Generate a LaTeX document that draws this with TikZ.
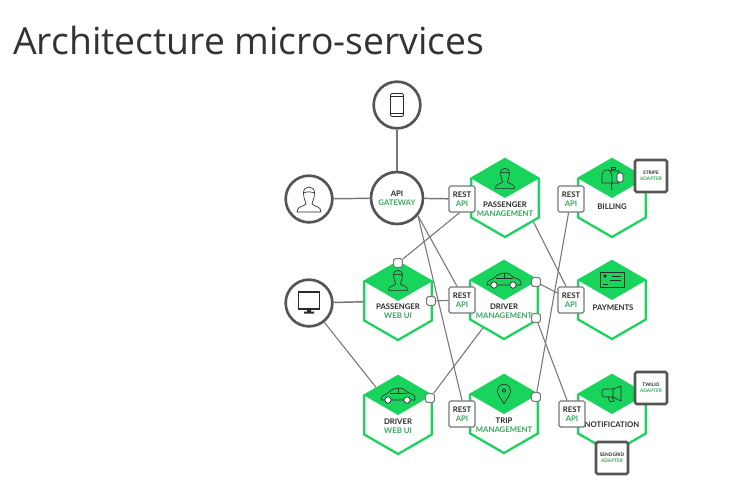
\documentclass[tikz,border=0pt]{standalone}
\usepackage{fontspec}
\setmainfont{Lato}
\newfontfamily\titlefont{Open Sans}
\usetikzlibrary{positioning,arrows.meta,shapes.geometric,calc}
\definecolor{hexGreen}{HTML}{19D45C}
\definecolor{textGreen}{HTML}{35A85C}
\definecolor{ringGray}{HTML}{555555}
\definecolor{wireGray}{HTML}{777777}
\definecolor{inkDark}{HTML}{2A2A2A}

\tikzset{
    personIcon/.pic={
        \draw[iconLine] (-5.5,-6) .. controls (-6,-14) and (6,-14) .. (5.5,-6) .. controls (5.5,0) and (3,3) .. (3,5) .. controls (6,8) and (12,7) .. (12,13) -- (-12,13) .. controls (-12,7) and (-6,8) .. (-3,5) .. controls (-3,3) and (-5.5,0) .. cycle;
        \draw[iconLine] (-5.5,-6) .. controls (-2,-8) and (3,-7) .. (5.5,-6);
    },
    carIcon/.pic={
        \draw[iconLine] (-17,5) .. controls (-18,1) and (-13,0) .. (-10,-2) .. controls (-7,-6) and (-2,-7) .. (2,-7) .. controls (6,-7) and (8,-3) .. (11,-2) .. controls (15,-1) and (18,1) .. (17,5) -- cycle;
        \draw[iconLine] (-8,-2) -- (9,-2) (0,-7) -- (0,-2);
        \draw[iconLine, fill=white] (-10,5) circle (3.2) (9,5) circle (3.2);
    },
    phoneIcon/.pic={
        \draw[iconLine, rounded corners=1pt] (-6.5,-11.5) rectangle (6.5,11.5);
        \draw[iconLine] (-6.5,-9) -- (6.5,-9) (-6.5,8) -- (6.5,8);
    },
    monitorIcon/.pic={
        \draw[inkDark, line width=1.2pt] (-10.5,-11) rectangle (10.5,6);
        \fill[inkDark] (-2,6) rectangle (2,9) (-5,8.5) rectangle (5,10.5);
    },
    mailIcon/.pic={
        \draw[iconLine] (-10,5) -- (-10,-3) .. controls (-10,-9) and (-3,-9) .. (-2,-7) -- (7,-7) -- (7,5) -- cycle;
        \draw[iconLine] (-2,-7) .. controls (0,-5) and (0,-3) .. (0,5);
        \draw[iconLine] (-1,5) -- (-1,12) (-1,-7) -- (-1,-11) -- (3,-11) -- (3,-8.5) -- (-1,-8.5);
        \draw[iconLine, fill=white, rounded corners=1pt] (5,-5) rectangle (11,4);
    },
    cardIcon/.pic={
        \draw[iconLine] (-12,-8) rectangle (12,7);
        \fill[inkDark] (-7,-4) circle (1.8);
        \draw[iconLine, line width=0.3pt] (0,-4) -- (9,-4) (-9,4) -- (-4,4) (-2,0) -- (9,0);
    },
    pinIcon/.pic={
        \draw[iconLine] (0,10) .. controls (-2.5,5) and (-6.5,1) .. (-6.5,-3) .. controls (-6.5,-12) and (6.5,-12) .. (6.5,-3) .. controls (6.5,1) and (2.5,5) .. (0,10) -- cycle;
        \draw[iconLine] (0,-3.5) circle (1.8);
    },
    hornIcon/.pic={
        \draw[iconLine] (-8,-5) -- (1,-5) -- (9,-8) -- (9,7) -- (1,3) -- (-8,3) .. controls (-11,3) and (-11,-5) .. (-8,-5) -- cycle;
        \draw[iconLine] (-4,3) -- (-2,8) -- (2,7) -- (0,3) (1,-5) -- (1,3);
    }
}

\begin{document}
\begin{tikzpicture}[
    x=0.75pt, y=-0.75pt,
    every node/.style={font=\bfseries\fontsize{5.8}{7}\selectfont, text=inkDark, align=center, inner sep=0pt},
    iconLine/.style={draw=inkDark, line width=0.5pt, line join=round},
    wire/.style={draw=wireGray, line width=0.8pt},
    clientRing/.style={circle, draw=ringGray, line width=2pt, fill=white, minimum size=35pt},
    hexService/.style={regular polygon, regular polygon sides=6, shape border rotate=30, draw=hexGreen, line width=1.7pt, minimum size=58.5pt, fill=white,
        path picture={\fill[hexGreen] ($(path picture bounding box.center)+(-36,-20.8)$) -- ($(path picture bounding box.center)+(0,-42)$) -- ($(path picture bounding box.center)+(36,-20.8)$) -- (path picture bounding box.center) -- cycle;}},
    restBox/.style={rectangle, rounded corners=1.2pt, draw=wireGray, line width=0.9pt, fill=white, minimum size=19.5pt},
    adapterBox/.style={rectangle, rounded corners=1.2pt, draw=ringGray, line width=1.9pt, fill=white, minimum size=24pt, font=\bfseries\fontsize{3.6}{4.6}\selectfont},
    portBox/.style={rectangle, rounded corners=1.2pt, draw=wireGray, line width=0.8pt, fill=white, minimum size=6.5pt}
]
    % Title and frame
    \useasboundingbox (0,0) rectangle (731,487);
    \fill[white] (0,0) rectangle (731,487);
    \node[anchor=west, font=\titlefont\fontsize{28}{30}\selectfont, text=black!80] (slideTitle) at (13,40) {Architecture micro-services};

    % Clients
    \node[clientRing] (phoneClient) at (397,105) {};
    \node[clientRing] (userClient) at (309,199) {};
    \node[clientRing] (monitorClient) at (309,303) {};
    \node[clientRing, minimum size=39pt] (apiGateway) at (397,198) {API\\\textcolor{textGreen}{GATEWAY}};
    \pic at (397,105) {phoneIcon};
    \pic at (309,199) {personIcon};
    \pic at (309,303) {monitorIcon};

    % Services
    \node[hexService] (passengerMgmt) at (505,198) {};
    \node[hexService] (billingSvc) at (612,198) {};
    \node[hexService] (driverMgmt) at (504,300) {};
    \node[hexService] (paymentsSvc) at (612,300) {};
    \node[hexService] (passengerWeb) at (398,301) {};
    \node[hexService] (driverWeb) at (398,415) {};
    \node[hexService] (tripMgmt) at (504,414) {};
    \node[hexService] (notificationSvc) at (612,414) {};

    % Service labels
    \node (passengerMgmtLabel) at (505,209) {PASSENGER\\\textcolor{textGreen}{MANAGEMENT}};
    \node (billingLabel) at (612,207) {BILLING};
    \node (driverMgmtLabel) at (504,311) {DRIVER\\\textcolor{textGreen}{MANAGEMENT}};
    \node (paymentsLabel) at (613,308) {PAYMENTS};
    \node (passengerWebLabel) at (398,311) {PASSENGER\\\textcolor{textGreen}{WEB UI}};
    \node (driverWebLabel) at (398,426) {DRIVER\\\textcolor{textGreen}{WEB UI}};
    \node (tripMgmtLabel) at (504,425) {TRIP\\\textcolor{textGreen}{MANAGEMENT}};
    \node (notificationLabel) at (612,425) {NOTIFICATION};

    % Service icons
    \pic[scale=0.8] at (505,178) {personIcon};
    \pic at (612,178) {mailIcon};
    \pic at (504,280) {carIcon};
    \pic at (612,280) {cardIcon};
    \pic[scale=0.8] at (398,280) {personIcon};
    \pic at (398,395) {carIcon};
    \pic at (504,394) {pinIcon};
    \pic at (612,394) {hornIcon};

    % REST interfaces
    \node[restBox] (restPassenger) at (462,199) {REST\\\textcolor{textGreen}{API}};
    \node[restBox] (restBilling) at (571,199) {REST\\\textcolor{textGreen}{API}};
    \node[restBox] (restDriver) at (462,300) {REST\\\textcolor{textGreen}{API}};
    \node[restBox] (restPayments) at (571,300) {REST\\\textcolor{textGreen}{API}};
    \node[restBox] (restTrip) at (462,414) {REST\\\textcolor{textGreen}{API}};
    \node[restBox] (restNotification) at (572,414) {REST\\\textcolor{textGreen}{API}};

    % Adapters
    \node[adapterBox] (stripeAdapter) at (651,176) {STRIPE\\\textcolor{textGreen}{ADAPTER}};
    \node[adapterBox] (twilioAdapter) at (651,388) {TWILIO\\\textcolor{textGreen}{ADAPTER}};
    \node[adapterBox] (sendgridAdapter) at (612,458) {SENDGRID\\\textcolor{textGreen}{ADAPTER}};

    % Outgoing ports
    \node[portBox] (passengerWebTop) at (398,263) {};
    \node[portBox] (passengerWebRight) at (431,301) {};
    \node[portBox] (driverWebPort) at (430,398) {};
    \node[portBox] (driverMgmtUpper) at (536,282) {};
    \node[portBox] (driverMgmtLower) at (536,318) {};
    \node[portBox] (tripMgmtPort) at (536,397) {};

    % Connections
    \draw[wire, line width=1.3pt] (phoneClient) -- (apiGateway);
    \draw[wire, line width=1.1pt] (userClient) -- (apiGateway);
    \draw[wire, line width=1.1pt] (apiGateway) -- (restPassenger);
    \draw[wire] (restPassenger.-100) -- (passengerWebTop);
    \draw[wire] (apiGateway.-40) -- (restDriver.110);
    \draw[wire] (apiGateway.-40) -- (restTrip.north);
    \draw[wire, line width=1.1pt] (monitorClient) -- (passengerWeb);
    \draw[wire] (monitorClient) -- (driverWeb);
    \draw[wire] (passengerWebRight) -- (restDriver);
    \draw[wire] (driverWebPort) -- (driverMgmt);
    \draw[wire] (passengerMgmt.-40) -- (restPayments.110);
    \draw[wire] (driverMgmtUpper) -- (restPayments);
    \draw[wire] (tripMgmtPort) -- (restBilling.-100);
    \draw[wire] (driverMgmtLower) -- (restNotification.110);
\end{tikzpicture}
\end{document}
